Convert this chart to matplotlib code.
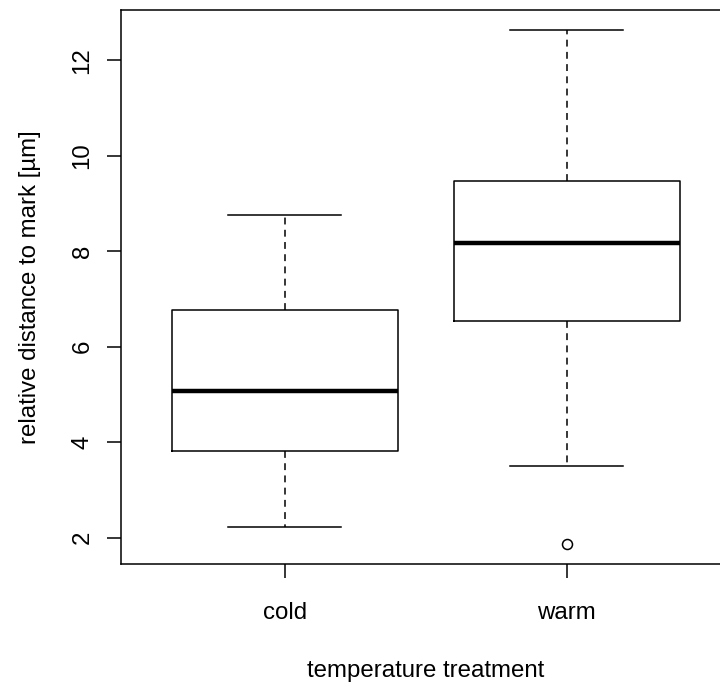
import matplotlib
matplotlib.use("Agg")
import matplotlib.pyplot as plt

# dades dels boxplots (llegides de la imatge)
groups = ["cold", "warm"]
whis_lo = [2.22, 3.50]
q1 = [3.82, 6.54]
medians = [5.07, 8.18]
q3 = [6.77, 9.48]
whis_hi = [8.76, 12.63]
outliers = [[], [1.88]]
yticks = [2, 4, 6, 8, 10, 12]

plt.rcParams['font.family'] = ['Liberation Sans', 'DejaVu Sans']

fig = plt.figure(figsize=(7.2, 6.86), dpi=100)
ax = fig.add_axes([0.1685, 0.1778, 0.846, 0.808])

stats = []
for i in range(len(groups)):
    stats.append(dict(label=groups[i], whislo=whis_lo[i], q1=q1[i], med=medians[i],
                      q3=q3[i], whishi=whis_hi[i], fliers=outliers[i]))

ax.bxp(stats, positions=[1, 2], widths=0.8, capwidths=0.4, showfliers=True,
       boxprops=dict(color='black', linewidth=1.1),
       medianprops=dict(color='black', linewidth=3.2, solid_capstyle='butt'),
       whiskerprops=dict(color='black', linewidth=1.1, linestyle=(0, (4.5, 3.5))),
       capprops=dict(color='black', linewidth=1.1),
       flierprops=dict(marker='o', markerfacecolor='none', markeredgecolor='black',
                       markersize=7.2, markeredgewidth=1.1))

# limits com R (4% extra)
lo = min(min(whis_lo), min(min(o) for o in outliers if o))
hi = max(whis_hi)
r = hi - lo
ax.set_ylim(lo - 0.04 * r, hi + 0.04 * r)
ax.set_xlim(0.42, 2.58)

ax.set_yticks(yticks)
ax.set_yticklabels([str(t) for t in yticks], rotation=90, va='center')
ax.set_xticks([1, 2])
ax.set_xticklabels(groups)
ax.tick_params(axis='both', length=10, width=1.1, labelsize=17.3, direction='out')
ax.tick_params(axis='x', pad=17)
ax.tick_params(axis='y', pad=10)

ax.set_xlabel('temperature treatment', fontsize=17.3, labelpad=26)
ax.set_ylabel('relative distance to mark [µm]', fontsize=17.3, labelpad=22)

for s in ax.spines.values():
    s.set_linewidth(1.1)

plt.savefig('out.png', dpi=100)
plt.close(fig)
